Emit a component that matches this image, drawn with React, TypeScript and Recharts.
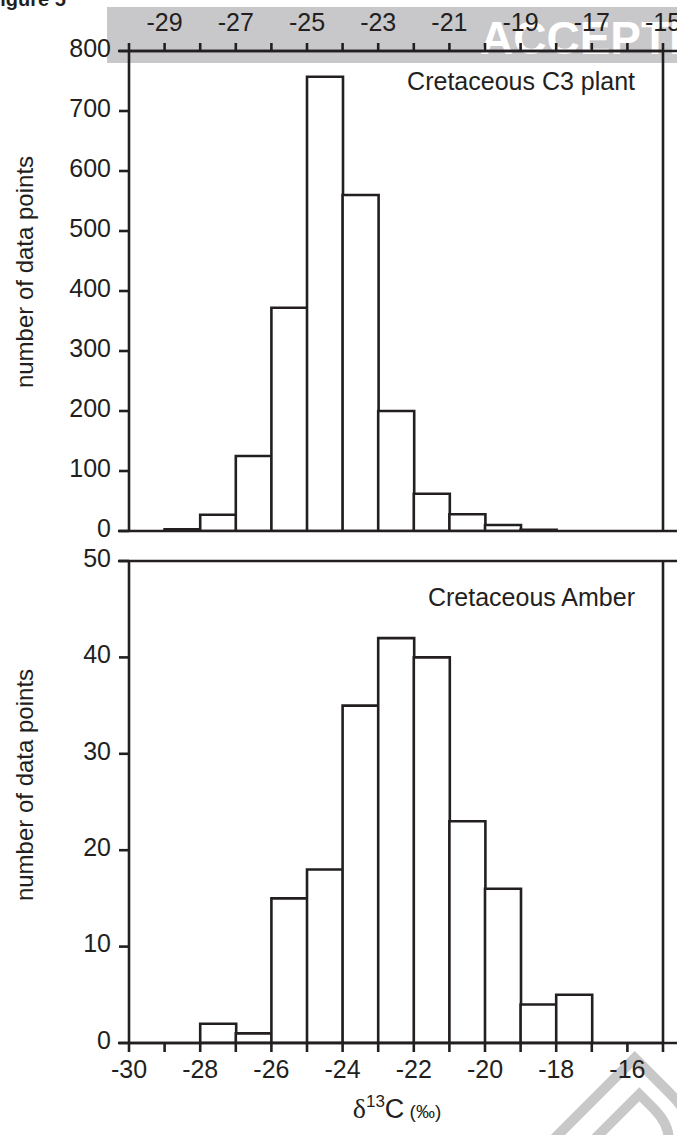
import React from 'react';
import { BarChart, Bar, XAxis, YAxis, ReferenceLine } from 'recharts';

// Histogram bins (lower edge of each 1‰ bin)
const binStarts = [-30, -29, -28, -27, -26, -25, -24, -23, -22, -21, -20, -19, -18, -17, -16];
// Cretaceous C3 plant counts
const c3Counts = [0, 3, 27, 125, 372, 757, 560, 200, 62, 28, 10, 2, 0, 0, 0];
// Cretaceous Amber counts
const amberCounts = [0, 0, 2, 1, 15, 18, 35, 42, 40, 23, 16, 4, 5, 0, 0];

const xTicks = [-30, -29, -28, -27, -26, -25, -24, -23, -22, -21, -20, -19, -18, -17, -16, -15];
const c3YTicks = [0, 100, 200, 300, 400, 500, 600, 700, 800];
const amberYTicks = [0, 10, 20, 30, 40, 50];

const c3Data = binStarts.map((s, i) => ({ start: s, bin: String(s), count: c3Counts[i] }));
const amberData = binStarts.map((s, i) => ({ start: s, bin: String(s), count: amberCounts[i] }));

const INK = '#231f20';
const FONT = '"Liberation Sans", Arial, Helvetica, sans-serif';
const FS = 25;
const LW = 2.6;

const YTick = (props: any) => {
  const { x, y, payload } = props;
  return (
    <text x={x} y={y + FS * 0.355 - 3} textAnchor="end" fontSize={FS} fontFamily={FONT} fill={INK}>
      {payload.value}
    </text>
  );
};

const TopTick = (props: any) => {
  const { x, y, payload } = props;
  const v = payload.value;
  const show = Math.abs(v) % 2 === 1;
  return (
    <text x={x} y={y} textAnchor="middle" fontSize={FS} fontFamily={FONT} fill={INK}>
      {show ? String(v) : ''}
    </text>
  );
};

const BottomTick = (props: any) => {
  const { x, y, payload } = props;
  const v = payload.value;
  const show = Math.abs(v) % 2 === 0;
  return (
    <text x={x} y={y + FS * 0.71} textAnchor="middle" fontSize={FS} fontFamily={FONT} fill={INK}>
      {show ? String(v) : ''}
    </text>
  );
};

const lineStyle = { stroke: INK, strokeWidth: LW };

export default function App() {
  return (
    <div
      style={{
        position: 'absolute',
        left: 0,
        top: 0,
        width: 677,
        height: 1135,
        overflow: 'hidden',
        background: '#fff',
      }}
    >
      {/* background decorations */}
      <svg width={677} height={1135} style={{ position: 'absolute', left: 0, top: 0 }}>
        <rect x={107} y={7} width={570} height={56} fill="#c8c8ca" />
        <text x={480} y={54} fontSize={46} fontWeight="bold" fontFamily={FONT} fill="#ffffff">
          ACCEPTED
        </text>
        <text x={-12} y={6} fontSize={20} fontWeight="bold" fontFamily={FONT} fill={INK}>
          Figure 5
        </text>
        <text
          transform="translate(528,1146) rotate(45)"
          fontSize={200}
          fontWeight="bold"
          fontFamily={FONT}
          fill="none"
          stroke="#c8c8c8"
          strokeWidth={10}
        >
          D
        </text>
      </svg>

      {/* Top panel: Cretaceous C3 plant */}
      <div style={{ position: 'absolute', left: 0, top: 0 }}>
        <BarChart
          width={677}
          height={545}
          data={c3Data}
          margin={{ top: 0, right: 0, bottom: 14, left: 0 }}
          barCategoryGap={0}
          barGap={0}
        >
          <XAxis xAxisId="cat" dataKey="bin" type="category" hide height={0} />
          <XAxis
            xAxisId="num"
            dataKey="start"
            type="number"
            orientation="top"
            domain={[-30, -15]}
            allowDataOverflow
            ticks={xTicks}
            interval={0}
            height={51}
            tickSize={8}
            tickMargin={12}
            axisLine={lineStyle}
            tickLine={lineStyle}
            tick={<TopTick />}
          />
          <YAxis
            yAxisId="left"
            dataKey="count"
            domain={[0, 800]}
            allowDataOverflow
            ticks={c3YTicks}
            interval={0}
            width={129}
            tickSize={10}
            tickMargin={8}
            axisLine={lineStyle}
            tickLine={lineStyle}
            tick={<YTick />}
          />
          <YAxis
            yAxisId="right"
            orientation="right"
            dataKey="count"
            domain={[0, 800]}
            allowDataOverflow
            ticks={c3YTicks}
            interval={0}
            width={14}
            tickSize={10}
            axisLine={lineStyle}
            tickLine={lineStyle}
            tick={false}
          />
          <ReferenceLine
            xAxisId="num"
            yAxisId="left"
            segment={[{ x: -30.31, y: 0 }, { x: -14.6, y: 0 }]}
            ifOverflow="visible"
            stroke={INK}
            strokeWidth={LW}
          />
          <ReferenceLine
            xAxisId="num"
            yAxisId="left"
            segment={[{ x: -30.31, y: 800 }, { x: -14.6, y: 800 }]}
            ifOverflow="visible"
            stroke={INK}
            strokeWidth={LW}
          />
          <Bar
            xAxisId="cat"
            yAxisId="left"
            dataKey="count"
            fill="#ffffff"
            stroke={INK}
            strokeWidth={LW}
            isAnimationActive={false}
          />
        </BarChart>
      </div>

      {/* Bottom panel: Cretaceous Amber */}
      <div style={{ position: 'absolute', left: 0, top: 535 }}>
        <BarChart
          width={677}
          height={600}
          data={amberData}
          margin={{ top: 26, right: 0, bottom: 22, left: 0 }}
          barCategoryGap={0}
          barGap={0}
        >
          <XAxis xAxisId="cat" dataKey="bin" type="category" hide height={0} />
          <XAxis
            xAxisId="num"
            dataKey="start"
            type="number"
            orientation="bottom"
            domain={[-30, -15]}
            allowDataOverflow
            ticks={xTicks}
            interval={0}
            height={70}
            tickSize={9}
            tickMargin={8}
            axisLine={lineStyle}
            tickLine={lineStyle}
            tick={<BottomTick />}
          />
          <YAxis
            yAxisId="left"
            dataKey="count"
            domain={[0, 50]}
            allowDataOverflow
            ticks={amberYTicks}
            interval={0}
            width={129}
            tickSize={10}
            tickMargin={8}
            axisLine={lineStyle}
            tickLine={lineStyle}
            tick={<YTick />}
          />
          <YAxis
            yAxisId="right"
            orientation="right"
            dataKey="count"
            domain={[0, 50]}
            allowDataOverflow
            ticks={amberYTicks}
            interval={0}
            width={14}
            tickSize={10}
            axisLine={lineStyle}
            tickLine={lineStyle}
            tick={false}
          />
          <ReferenceLine
            xAxisId="num"
            yAxisId="left"
            segment={[{ x: -30.31, y: 0 }, { x: -14.6, y: 0 }]}
            ifOverflow="visible"
            stroke={INK}
            strokeWidth={LW}
          />
          <ReferenceLine
            xAxisId="num"
            yAxisId="left"
            segment={[{ x: -30.31, y: 50 }, { x: -14.6, y: 50 }]}
            ifOverflow="visible"
            stroke={INK}
            strokeWidth={LW}
          />
          <Bar
            xAxisId="cat"
            yAxisId="left"
            dataKey="count"
            fill="#ffffff"
            stroke={INK}
            strokeWidth={LW}
            isAnimationActive={false}
          />
        </BarChart>
      </div>

      {/* text overlay */}
      <svg width={677} height={1135} style={{ position: 'absolute', left: 0, top: 0, pointerEvents: 'none' }}>
        <text x={635} y={90} textAnchor="end" fontSize={FS} fontFamily={FONT} fill={INK}>
          Cretaceous C3 plant
        </text>
        <text x={635} y={606} textAnchor="end" fontSize={FS} fontFamily={FONT} fill={INK}>
          Cretaceous Amber
        </text>
        <text
          transform="translate(33,272) rotate(-90)"
          textAnchor="middle"
          fontSize={24}
          fontFamily={FONT}
          fill={INK}
        >
          number of data points
        </text>
        <text
          transform="translate(33,785) rotate(-90)"
          textAnchor="middle"
          fontSize={24}
          fontFamily={FONT}
          fill={INK}
        >
          number of data points
        </text>
        <text x={397} y={1118} textAnchor="middle" fontFamily={FONT} fill={INK}>
          <tspan fontSize={28} fontFamily='"Liberation Serif", "DejaVu Serif", serif'>δ</tspan>
          <tspan fontSize={17} dy={-11}>13</tspan>
          <tspan fontSize={27} dy={11}>C</tspan>
          <tspan fontSize={19}> (‰)</tspan>
        </text>
      </svg>
    </div>
  );
}
